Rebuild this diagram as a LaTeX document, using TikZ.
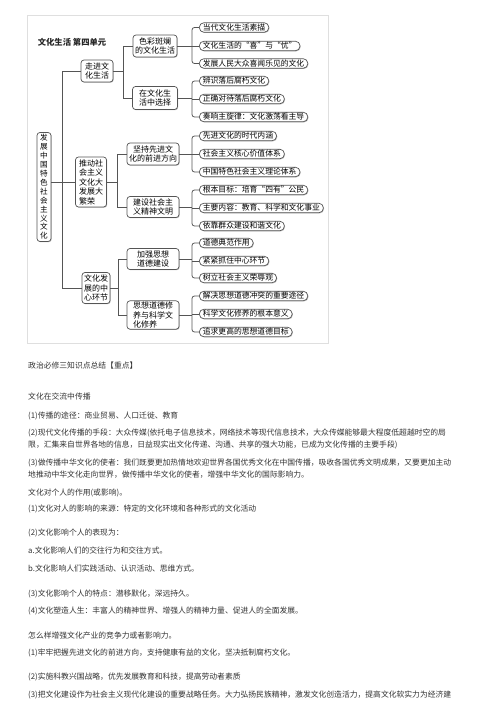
\documentclass[tikz,border=0pt]{standalone}
\usepackage{fontspec}
\setmainfont{Noto Sans CJK SC}
\usetikzlibrary{shadows}
\definecolor{lc}{HTML}{555555}
\definecolor{tc}{HTML}{333333}
\begin{document}
\begin{tikzpicture}[x=1pt,y=-1pt,
 conn/.style={draw=lc,line width=0.8pt},
 box/.style={draw=lc,line width=0.7pt,fill=white,rounded corners=3pt,align=center,inner sep=1pt,
   font=\fontsize{8}{9.5}\selectfont,text=black,
   drop shadow={shadow xshift=0.7pt,shadow yshift=-0.7pt,fill=gray!55,opacity=1}},
 leaf/.style={box,rounded corners=4.5pt,anchor=west,font=\fontsize{7.8}{9}\selectfont,
   inner xsep=3.5pt,inner ysep=0pt,minimum height=9.5pt},
 body/.style={anchor=west,inner sep=0pt,font=\fontsize{7.8}{9}\selectfont,text=tc}]
\useasboundingbox (0,0) rectangle (500,708);
\fill[white] (0,0) rectangle (500,708);
\draw[gray!25,line width=0.6pt] (27,15) rectangle (328,343);

% title
\node[font=\fontsize{8.3}{10}\selectfont\bfseries,text=black!85,inner sep=0pt] (title) at (72,42) {文化生活\ 第四单元};

% root and level 1
\node[box,minimum width=14pt,minimum height=109pt,inner sep=0.5pt,font=\fontsize{7.6}{8.9}\selectfont] (root) at (44,187)
  {发\\展\\中\\国\\特\\色\\社\\会\\主\\义\\文\\化};
\node[box,minimum width=32pt,minimum height=22pt] (t1) at (97,71) {走进文\\化生活};
\node[box,minimum width=31pt,minimum height=50pt,align=left] (t2) at (91,182) {推动社\\会主义\\文化大\\发展大\\繁荣};
\node[box,minimum width=28pt,minimum height=31pt] (t3) at (96,288) {文化发\\展的中\\心环节};

% level 2
\node[box,minimum width=44pt,minimum height=22pt] (c1) at (155,46) {色彩斑斓\\的文化生活};
\node[box,minimum width=45pt,minimum height=23pt] (c2) at (155,98) {在文化生\\活中选择};
\node[box,minimum width=52pt,minimum height=22pt] (c3) at (153,154) {坚持先进文\\化的前进方向};
\node[box,minimum width=52pt,minimum height=21pt] (c4) at (153,207) {建设社会主\\义精神文明};
\node[box,minimum width=52pt,minimum height=21pt] (c5) at (153,259) {加强思想\\道德建设};
\node[box,minimum width=52pt,minimum height=27pt,align=left] (c6) at (153,315) {思想道德修\\养与科学文\\化修养};

% leaves
\node[leaf] (l1) at (199,27.5) {当代文化生活素描};
\node[leaf] (l2) at (199,46) {文化生活的“喜”与“忧”};
\node[leaf] (l3) at (199,63.5) {发展人民大众喜闻乐见的文化};
\node[leaf] (l4) at (199,81) {辨识落后腐朽文化};
\node[leaf] (l5) at (199,99) {正确对待落后腐朽文化};
\node[leaf] (l6) at (199,117) {奏响主旋律：文化激荡看主导};
\node[leaf] (l7) at (199,136) {先进文化的时代内涵};
\node[leaf] (l8) at (199,154) {社会主义核心价值体系};
\node[leaf] (l9) at (199,172) {中国特色社会主义理论体系};
\node[leaf] (l10) at (199,190) {根本目标：培育“四有”公民};
\node[leaf] (l11) at (199,208) {主要内容：教育、科学和文化事业};
\node[leaf] (l12) at (199,226) {依靠群众建设和谐文化};
\node[leaf] (l13) at (199,243) {道德典范作用};
\node[leaf] (l14) at (199,261) {紧紧抓住中心环节};
\node[leaf] (l15) at (199,278) {树立社会主义荣辱观};
\node[leaf] (l16) at (199,296) {解决思想道德冲突的重要途径};
\node[leaf] (l17) at (199,314) {科学文化修养的根本意义};
\node[leaf] (l18) at (199,332) {追求更高的思想道德目标};

% connectors
\coordinate (tx) at (62,0);
\draw[conn] (root.east |- t2.west) -- (t2.west);
\draw[conn] (t1.west) -- (t1.west -| tx) -- (t3.west -| tx) -- (t3.west);

\coordinate (b1) at (123,0);
\coordinate (b2) at (117,0);
\coordinate (b3) at (118,0);
\draw[conn] (t1.east) -- (t1.east -| b1);
\draw[conn] (c1.west) -- (c1.west -| b1) -- (c2.west -| b1) -- (c2.west);
\draw[conn] (t2.east) -- (t2.east -| b2);
\draw[conn] (c3.west) -- (c3.west -| b2) -- (c4.west -| b2) -- (c4.west);
\draw[conn] (t3.east) -- (t3.east -| b3);
\draw[conn] (c5.west) -- (c5.west -| b3) -- (c6.west -| b3) -- (c6.west);

\coordinate (bx) at (192,0);
\foreach \c/\a/\m/\b in {c1/l1/l2/l3,c2/l4/l5/l6,c3/l7/l8/l9,c4/l10/l11/l12,c5/l13/l14/l15,c6/l16/l17/l18}{
  \draw[conn] (\c.east) -- (\c.east -| bx);
  \draw[conn,rounded corners=2.5pt] (\a.west) -| (bx |- \c.east) |- (\b.west);
  \draw[conn] (bx |- \m.west) -- (\m.west);
}

% body text
\node[body] (p1) at (28,366) {政治必修三知识点总结【重点】};
\node[body] (p2) at (28,397) {文化在交流中传播};
\node[body] (p3) at (28,416) {(1)传播的途径：商业贸易、人口迁徙、教育};
\node[body] (p4) at (28,433) {(2)现代文化传播的手段：大众传媒(依托电子信息技术，网络技术等现代信息技术，大众传媒能够最大程度低超越时空的局};
\node[body] (p5) at (28,445) {限，汇集来自世界各地的信息，日益现实出文化传递、沟通、共享的强大功能，已成为文化传播的主要手段)};
\node[body] (p6) at (28,463) {(3)做传播中华文化的使者：我们既要更加热情地欢迎世界各国优秀文化在中国传播，吸收各国优秀文明成果，又要更加主动};
\node[body] (p7) at (28,475) {地推动中华文化走向世界，做传播中华文化的使者，增强中华文化的国际影响力。};
\node[body] (p8) at (28,493) {文化对个人的作用(或影响)。};
\node[body] (p9) at (28,509) {(1)文化对人的影响的来源：特定的文化环境和各种形式的文化活动};
\node[body] (p10) at (28,533) {(2)文化影响个人的表现为：};
\node[body] (p11) at (28,551) {a.文化影响人们的交往行为和交往方式。};
\node[body] (p12) at (28,569) {b.文化影响人们实践活动、认识活动、思维方式。};
\node[body] (p13) at (28,594) {(3)文化影响个人的特点：潜移默化，深远持久。};
\node[body] (p14) at (28,611) {(4)文化塑造人生：丰富人的精神世界、增强人的精神力量、促进人的全面发展。};
\node[body] (p15) at (28,636) {怎么样增强文化产业的竞争力或者影响力。};
\node[body] (p16) at (28,653) {(1)牢牢把握先进文化的前进方向，支持健康有益的文化，坚决抵制腐朽文化。};
\node[body] (p17) at (28,677) {(2)实施科教兴国战略，优先发展教育和科技，提高劳动者素质};
\node[body] (p18) at (28,695) {(3)把文化建设作为社会主义现代化建设的重要战略任务。大力弘扬民族精神，激发文化创造活力，提高文化软实力为经济建};
\end{tikzpicture}
\end{document}
